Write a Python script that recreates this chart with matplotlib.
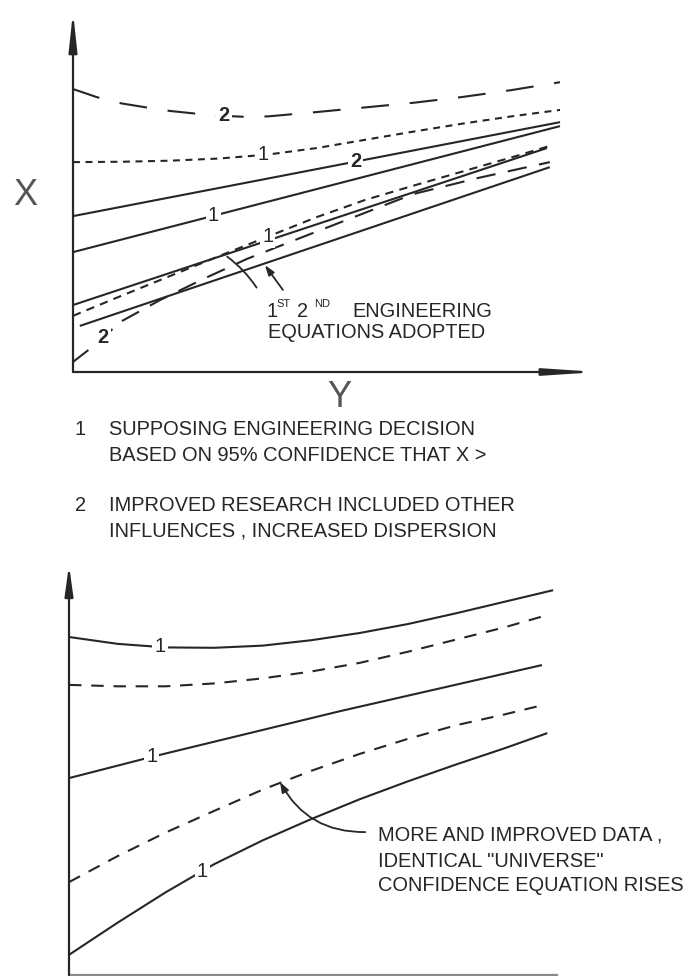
import numpy as np
import matplotlib.pyplot as plt

plt.rcParams['font.family'] = ['Liberation Sans', 'DejaVu Sans']
plt.rcParams['lines.scale_dashes'] = False

INK = '#262626'
GRAY = '#555555'
FS = 14.4

# ---- upper diagram: X against Y ----
# curve 2, long dashes (top)
top2_x = [0, 0.5, 1, 1.5, 2, 2.5, 3, 3.5, 4, 5, 6, 7, 8, 9, 10]
top2_y = [7.86, 7.63, 7.46, 7.35, 7.25, 7.18, 7.12, 7.09, 7.10, 7.22, 7.35, 7.48, 7.64, 7.83, 8.05]
# curve 1, short dashes (upper)
top1_x = [0, 1, 2, 3, 4, 5, 6, 7, 8, 9, 10]
top1_y = [5.83, 5.84, 5.87, 5.93, 6.04, 6.22, 6.45, 6.68, 6.90, 7.10, 7.28]
# solid lines 2 and 1
sol2_x = [0, 10]
sol2_y = [4.33, 6.94]
sol1_x = [0, 10]
sol1_y = [3.33, 6.83]
# lower bundle: dashed 1, first equation, second equation, long-dashed 2
low1_x = [0, 1, 2, 3, 4, 5, 6, 7, 8, 9, 9.79]
low1_y = [1.56, 2.12, 2.67, 3.22, 3.76, 4.30, 4.78, 5.18, 5.57, 5.96, 6.28]
eq1_x = [0, 9.73]
eq1_y = [1.86, 6.22]
eq2_x = [0.14, 9.79]
eq2_y = [1.28, 5.69]
low2_x = [0, 0.45, 0.97, 1.79, 2.67, 3.57, 4.66, 6.98, 8.32, 9.79]
low2_y = [0.28, 0.75, 1.39, 2.0, 2.58, 3.14, 3.72, 4.94, 5.39, 5.83]

# ---- lower diagram ----
b_sol_top_x = [0, 1, 2, 3, 4, 5, 6, 7, 8, 9, 10]
b_sol_top_y = [9.39, 9.20, 9.10, 9.09, 9.15, 9.30, 9.50, 9.75, 10.05, 10.37, 10.69]
b_dash_top_x = [0, 1, 2, 3, 4, 5, 6, 7, 8, 9, 9.88]
b_dash_top_y = [8.06, 8.02, 8.02, 8.10, 8.24, 8.43, 8.67, 8.98, 9.32, 9.66, 10.0]
b_sol_mid_x = [0, 1.71, 5.6, 9.77]
b_sol_mid_y = [5.47, 6.06, 7.33, 8.61]
b_dash_low_x = [0, 1, 2, 3, 4, 5, 6, 7, 8, 9, 9.79]
b_dash_low_y = [2.58, 3.30, 3.96, 4.56, 5.15, 5.67, 6.14, 6.56, 6.94, 7.24, 7.50]
b_sol_low_x = [0, 1, 2, 3, 4, 5, 6, 7, 8, 9, 9.88]
b_sol_low_y = [0.56, 1.45, 2.30, 3.08, 3.74, 4.33, 4.88, 5.38, 5.85, 6.30, 6.72]

notes = [('1', 'SUPPOSING ENGINEERING DECISION'),
         ('', 'BASED ON 95% CONFIDENCE THAT X >'),
         ('2', 'IMPROVED RESEARCH INCLUDED OTHER'),
         ('', 'INFLUENCES , INCREASED DISPERSION')]
rise_note = ['MORE AND IMPROVED DATA ,',
             'IDENTICAL "UNIVERSE"',
             'CONFIDENCE EQUATION RISES']

fig = plt.figure(figsize=(6.9, 9.76), dpi=100)
ax = fig.add_axes([73 / 690, 604 / 976, 525 / 690, 360 / 976])
bx = fig.add_axes([69 / 690, 1 / 976, 488 / 690, 410 / 976])
ax.set_xlim(0, 10.78)
ax.set_ylim(0, 10)
bx.set_xlim(0, 10.08)
bx.set_ylim(0, 11.39)
for a in (ax, bx):
    a.axis('off')


def curve(a, x, y, dashes=None, lw=1.5):
    line, = a.plot(x, y, color=INK, lw=lw, solid_capstyle='butt',
                   dash_capstyle='butt', solid_joinstyle='round', clip_on=False)
    if dashes:
        line.set_dashes(dashes)
    return line


def tag(a, x, y, at, s, weight='normal'):
    yy = np.interp(at, x, y)
    a.text(at, yy, s, ha='center', va='center', fontsize=FS, color=INK,
           fontweight=weight, bbox=dict(fc='white', ec='none', pad=1.5),
           zorder=5)


def axis_arrow(a, start, end, hl, hw, color=INK):
    a.annotate('', xy=end, xytext=start, annotation_clip=False,
               arrowprops=dict(arrowstyle=f'-|>,head_length={hl},head_width={hw}',
                               lw=1.6, color=color, shrinkA=0, shrinkB=0))


# upper axes
axis_arrow(ax, (0, 0), (0, 10), 2.3, 0.25)
axis_arrow(ax, (0, 0), (10.78, 0), 3.0, 0.2)
ax.text(-0.99, 4.89, 'X', fontsize=26, color=GRAY, fontweight='light',
        ha='center', va='center')
ax.text(5.46, -0.72, 'Y', fontsize=26, color=GRAY, fontweight='light',
        ha='center', va='center', clip_on=False)

curve(ax, top2_x, top2_y, (20, 15))
curve(ax, top1_x, top1_y, (5, 4))
curve(ax, sol2_x, sol2_y)
curve(ax, sol1_x, sol1_y)
curve(ax, low1_x, low1_y, (6, 4.5))
curve(ax, eq1_x, eq1_y)
curve(ax, eq2_x, eq2_y)
curve(ax, low2_x, low2_y, (14, 9))

tag(ax, top2_x, top2_y, 3.1, '2', weight='bold')
tag(ax, top1_x, top1_y, 3.9, '1')
tag(ax, sol2_x, sol2_y, 5.8, '2', weight='bold')
tag(ax, sol1_x, sol1_y, 2.88, '1')
tag(ax, low1_x, low1_y, 4.0, '1')
tag(ax, low2_x, low2_y, 0.62, '2', weight='bold')

# pointers to the adopted equations
ax.annotate('', xy=(3.12, 3.25), xytext=(3.80, 2.28),
            arrowprops=dict(arrowstyle='-', lw=1.3, color=INK,
                            connectionstyle='arc3,rad=0.1'))
ax.annotate('', xy=(3.94, 2.97), xytext=(4.31, 2.28),
            arrowprops=dict(arrowstyle='-|>,head_length=0.6,head_width=0.2',
                            lw=1.3, color=INK, shrinkA=0, shrinkB=0))

ax.text(3.98, 1.69, '1', fontsize=FS, color=INK, ha='left', va='center')
ax.text(4.17, 1.88, 'ST', fontsize=8, color=INK, ha='left', va='center')
ax.text(4.60, 1.69, '2', fontsize=FS, color=INK, ha='left', va='center')
ax.text(4.95, 1.88, 'ND', fontsize=8, color=INK, ha='left', va='center')
ax.text(5.73, 1.69, 'ENGINEERING', fontsize=FS, color=INK, ha='left', va='center')
ax.text(4.0, 1.11, 'EQUATIONS ADOPTED', fontsize=FS, color=INK,
        ha='left', va='center')

# numbered notes under the upper diagram
for (num, line), yy in zip(notes, [-1.61, -2.33, -3.72, -4.42]):
    if num:
        ax.text(0.04, yy, num, fontsize=FS, color=INK, ha='left', va='center')
    ax.text(0.74, yy, line, fontsize=FS, color=INK, ha='left', va='center')

# lower axes
axis_arrow(bx, (0, 0), (0, 11.39), 1.8, 0.25)
bx.plot([0, 10.08], [0, 0], color='#8a8a8a', lw=1.6, clip_on=False)

curve(bx, b_sol_top_x, b_sol_top_y)
curve(bx, b_dash_top_x, b_dash_top_y, (9, 7))
curve(bx, b_sol_mid_x, b_sol_mid_y)
curve(bx, b_dash_low_x, b_dash_low_y, (9, 7))
curve(bx, b_sol_low_x, b_sol_low_y)

tag(bx, b_sol_top_x, b_sol_top_y, 1.88, '1')
tag(bx, b_sol_mid_x, b_sol_mid_y, 1.71, '1')
tag(bx, b_sol_low_x, b_sol_low_y, 2.75, '1')

bx.annotate('', xy=(4.36, 5.36), xytext=(6.12, 3.97),
            arrowprops=dict(arrowstyle='-|>,head_length=0.6,head_width=0.22',
                            lw=1.3, color=INK, shrinkA=0, shrinkB=0,
                            connectionstyle='arc3,rad=-0.3'))
for s, yy in zip(rise_note, [3.89, 3.14, 2.5]):
    bx.text(6.38, yy, s, fontsize=FS, color=INK, ha='left', va='center',
            clip_on=False)

fig.savefig('out.png', dpi=100, facecolor='white')
